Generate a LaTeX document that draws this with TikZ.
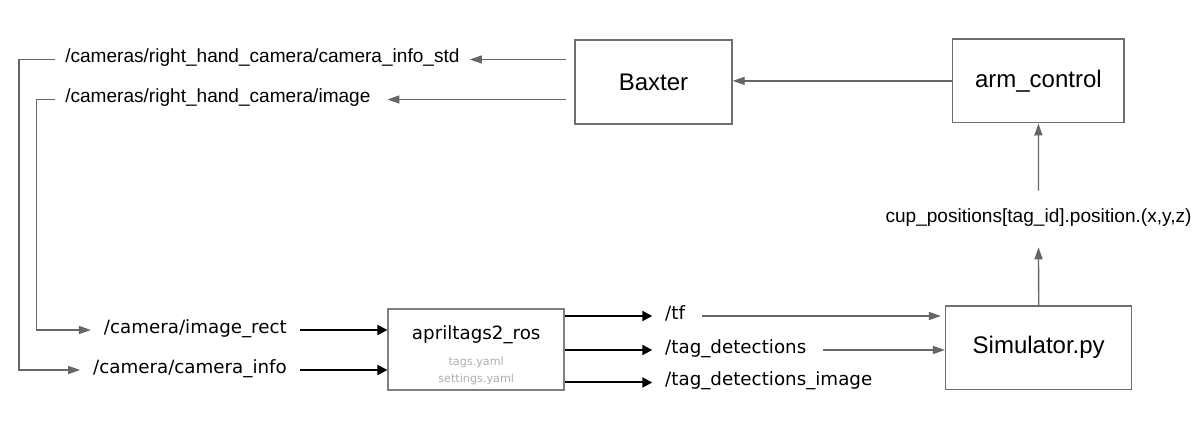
\documentclass[tikz,border=0pt]{standalone}
\usepackage{fontspec}
\setmainfont{Liberation Sans}
\newfontfamily\djvfont{DejaVu Sans}
\usepackage{tikz}
\usetikzlibrary{arrows.meta,positioning}
\definecolor{ln_gray}{HTML}{666666}
\definecolor{bx_gray}{HTML}{6E6E6E}
\definecolor{ap_gray}{HTML}{808080}
\definecolor{yml_gray}{HTML}{ADADAD}
\tikzset{
  basenode/.style = {align=center, inner sep=0pt, text centered},
  box_w/.style = {basenode, rectangle, draw=bx_gray, line width=1.1pt,
    font=\fontsize{18}{21}\selectfont},% boites principales
  box_a/.style = {basenode, rectangle, draw=ap_gray, line width=1.4pt},
  txt_t/.style = {basenode, inner xsep=7.5pt, font=\fontsize{14.3}{17}\selectfont,
    text height=0.72em, text depth=0.2em},
  txt_d/.style = {basenode, inner xsep=9.5pt, font=\djvfont\fontsize{13.7}{16}\selectfont,
    text height=0.72em, text depth=0.2em},% topics apriltags
  txt_y/.style = {basenode, text=yml_gray, font=\djvfont\fontsize{8.4}{10}\selectfont,
    text height=0.76em, text depth=0.24em},
  ln_g/.style = {draw=ln_gray, line width=1pt},
  ln_b/.style = {draw=black, line width=1.5pt, -{Triangle[length=7.5pt,width=7.5pt]}}
}
\begin{document}
\begin{tikzpicture}[->,>={Triangle[length=9pt,width=6pt]},x=0.75pt,y=-0.75pt]
\useasboundingbox (0,0) rectangle (1199,427);

\node (bax) [box_w, minimum width=117.75pt, minimum height=63pt] at (653.5,82) {Baxter};
\node (arm) [box_w, minimum width=128.5pt, minimum height=62.8pt] at (1038.4,80.9) {arm\_control};
\node (sim) [box_w, minimum width=139.5pt, minimum height=62.5pt] at (1038.7,347.7) {Simulator.py};
\node (cup) [txt_t, minimum height=42pt] at (1038.5,219) {cup\_positions[tag\_id].position.(x,y,z)};

\node (cam_std) [txt_t, anchor=west] at (55,59.5) {/cameras/right\_hand\_camera/camera\_info\_std};
\node (cam_img) [txt_t, anchor=west] at (55,99.5) {/cameras/right\_hand\_camera/image};

\node (img_rect) [txt_d, anchor=east] at (299.7,330) {/camera/image\_rect};
\node (cam_inf) [txt_d, anchor=east] at (299.7,370) {/camera/camera\_info};

\node (ap) [box_a, minimum width=131.8pt, minimum height=60.5pt] at (476.2,349.7) {};
\node (ap_t) [basenode, font=\djvfont\fontsize{13.7}{16}\selectfont] at (476.2,335) {apriltags2\_ros};
\node (ap_y1) [txt_y] at (476.2,362) {tags.yaml};
\node (ap_y2) [txt_y, below=2.6pt of ap_y1] {settings.yaml};

\node (tf) [txt_d, anchor=west] at (652.3,316) {/tf};
\node (tdet) [txt_d, anchor=west] at (652.3,350) {/tag\_detections};
\node (tdimg) [txt_d, anchor=west] at (652.3,382.5) {/tag\_detections\_image};

\coordinate (brk_o) at (19,0);
\coordinate (brk_i) at (36.7,0);

\draw[ln_g] (arm.west) -- (arm.west -| bax.east);
\draw[ln_g] (sim.north) -- (cup.south);
\draw[ln_g] (cup.north) -- (arm.south);

\draw[ln_g, shorten <=6pt] (bax.west |- cam_std.east) -- (cam_std.east);
\draw[ln_g, shorten <=6pt, shorten >=5pt] (bax.west |- cam_img.east) -- (cam_img.east);

% renvois vers les entrees d'apriltags
\draw[ln_g] (cam_std.west) -- (cam_std.west -| brk_o) |- (cam_inf.west);
\draw[ln_g] (cam_img.west) -- (cam_img.west -| brk_i) |- (img_rect.west);

\draw[ln_b] (img_rect.east) -- (img_rect.east -| ap.west);
\draw[ln_b] (cam_inf.east) -- (cam_inf.east -| ap.west);

\draw[ln_b] (ap.east |- tf.west) -- (tf.west);
\draw[ln_b] (ap.east |- tdet.west) -- (tdet.west);
\draw[ln_b] (ap.east |- tdimg.west) -- (tdimg.west);

\draw[ln_g, shorten <=3pt, shorten >=3pt] (tf.east) -- (tf.east -| sim.west);
\draw[ln_g, shorten <=3pt] (tdet.east) -- (tdet.east -| sim.west);

\end{tikzpicture}
\end{document}
